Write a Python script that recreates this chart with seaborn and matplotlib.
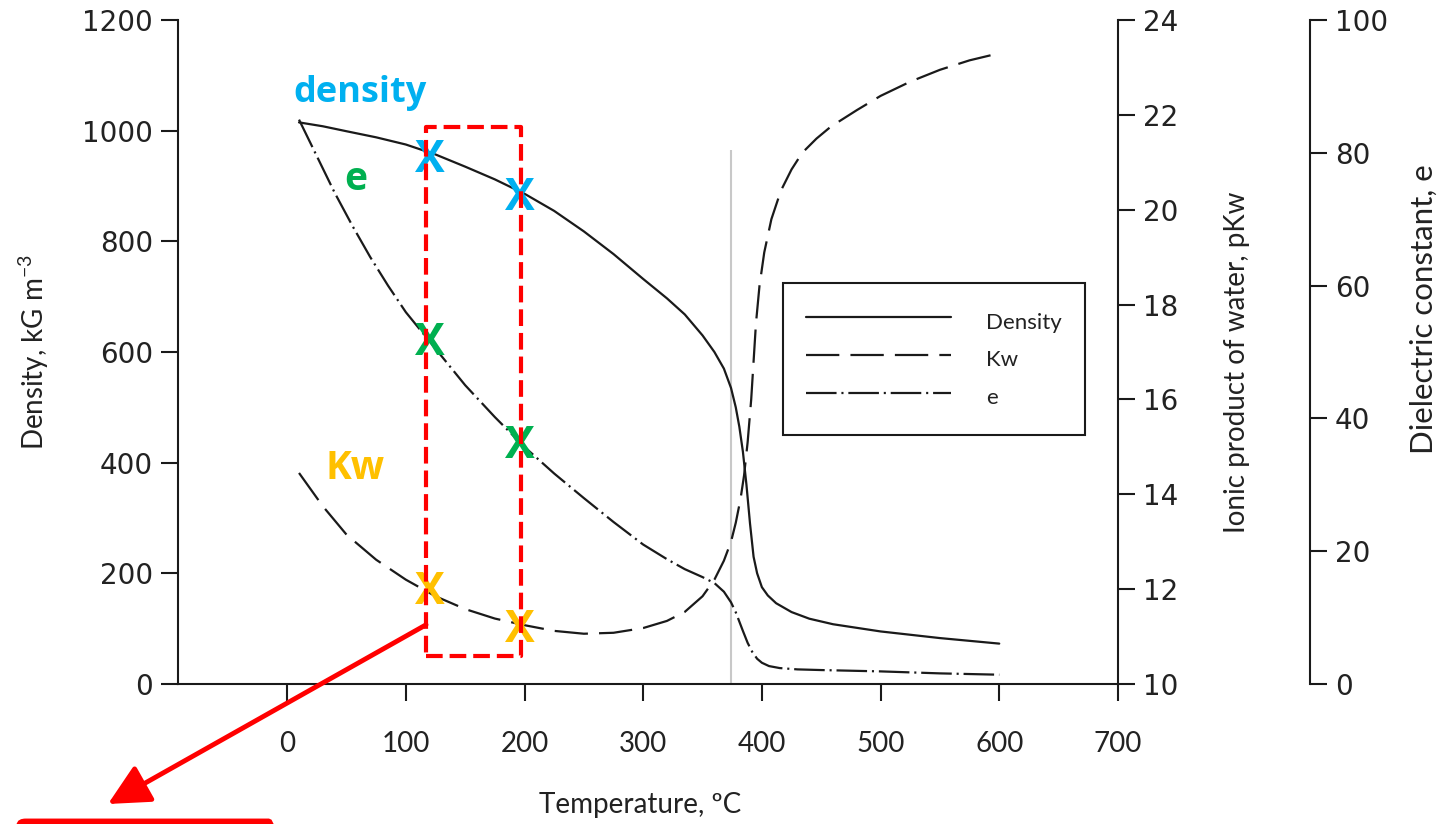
import matplotlib
matplotlib.use("Agg")
import matplotlib.pyplot as plt
import seaborn as sns
import pandas as pd
from matplotlib.patches import Rectangle, FancyBboxPatch

# ---------------- data ----------------
temp_density = [10, 30, 50, 75, 100, 125, 150, 175, 200, 225, 250, 275, 300,
                320, 335, 350, 360, 368, 374, 378, 381, 384, 387, 390, 393,
                396, 400, 405, 412, 425, 440, 460, 500, 550, 600]
density = [1015, 1008, 999, 988, 975, 957, 935, 912, 886, 855, 818, 777, 732,
           697, 668, 630, 600, 570, 535, 500, 465, 420, 360, 290, 230,
           200, 175, 160, 146, 130, 118, 108, 95, 83, 73]

temp_kw = [10, 30, 50, 75, 100, 125, 150, 175, 200, 225, 250, 275, 300, 320,
           335, 350, 360, 368, 374, 378, 382, 385, 388, 391, 393, 395, 398,
           402, 408, 416, 425, 434, 446, 458, 480, 500, 525, 550, 575, 600]
pkw = [14.45, 13.75, 13.15, 12.62, 12.2, 11.85, 11.58, 11.38, 11.24, 11.12,
       11.06, 11.08, 11.18, 11.33, 11.52, 11.85, 12.2, 12.6, 13.0, 13.4, 13.9,
       14.4, 15.1, 16.0, 16.8, 17.6, 18.4, 19.1, 19.8, 20.4, 20.85, 21.2, 21.5,
       21.75, 22.1, 22.4, 22.7, 22.95, 23.15, 23.3]

temp_e = [10, 25, 40, 55, 70, 85, 100, 125, 150, 175, 200, 225, 250, 275, 300,
          320, 335, 350, 360, 368, 374, 378, 381, 384, 388, 392, 396, 400, 406,
          415, 430, 450, 500, 550, 600]
dielectric = [85, 79.5, 74, 69, 64.3, 60, 56, 50.5, 45, 40.2, 35.7, 31.7, 28,
              24.4, 21, 18.8, 17.3, 16.1, 15.2, 13.9, 12.3, 10.8, 9.4, 8.0, 6.2,
              4.8, 3.8, 3.2, 2.7, 2.4, 2.2, 2.1, 1.9, 1.6, 1.4]

critical_T = 374
critical_line_top = 965          # in density units

x_ticks = [0, 100, 200, 300, 400, 500, 600, 700]
y1_ticks = [0, 200, 400, 600, 800, 1000, 1200]
y2_ticks = [10, 12, 14, 16, 18, 20, 22, 24]
y3_ticks = [0, 20, 40, 60, 80, 100]

# highlighted operating points (X marks)
mark_T = [120, 196]
mark_density = [956, 887]
mark_e = [52.1, 36.6]
mark_pkw = [12.05, 11.24]

# red dashed highlight box (T range, density range)
box_T = [117, 197]
box_density = [51, 1007]
arrow_start_density = 107

df_d = pd.DataFrame({"T": temp_density, "v": density})
df_k = pd.DataFrame({"T": temp_kw, "v": pkw})
df_e = pd.DataFrame({"T": temp_e, "v": dielectric})

# ---------------- style ----------------
sns.set_theme(style="ticks")
plt.rcParams["font.family"] = ["Lato", "DejaVu Sans"]
plt.rcParams["lines.scale_dashes"] = False
plt.rcParams["mathtext.fontset"] = "custom"
plt.rcParams["mathtext.rm"] = "Lato"
plt.rcParams["mathtext.it"] = "Lato:italic"
plt.rcParams["mathtext.bf"] = "Lato:bold"

LINE = "#1a1a1a"
TXT = "#222222"
BLUE, GREEN, GOLD, RED = "#00B0F0", "#00B050", "#FFC000", "#FF0000"

fig = plt.figure(figsize=(14.41, 8.24), dpi=100)
ax = fig.add_subplot(111)
fig.subplots_adjust(left=0.1235, right=0.7758, top=0.9757, bottom=0.1699)
ax2 = ax.twinx()
ax3 = ax.twinx()
ax3.spines["right"].set_position(("axes", 1.204))

sns.lineplot(data=df_d, x="T", y="v", ax=ax, color=LINE, lw=1.6,
             label="Density", legend=False)
sns.lineplot(data=df_k, x="T", y="v", ax=ax2, color=LINE, lw=1.6,
             linestyle=(0, (24, 8)), label="Kw", legend=False)
sns.lineplot(data=df_e, x="T", y="v", ax=ax3, color=LINE, lw=1.6,
             linestyle=(0, (22, 3.5, 1.5, 3.5)), label="e", legend=False)

ax.vlines(critical_T, 0, critical_line_top, color="#c8c8c8", lw=1.5, zorder=1)

ax.set_xlim(-92, 700)
ax.set_ylim(0, 1200)
ax2.set_ylim(10, 24)
ax3.set_ylim(0, 100)
ax.set_xticks(x_ticks)
ax.set_yticks(y1_ticks)
ax2.set_yticks(y2_ticks)
ax3.set_yticks(y3_ticks)

for a in (ax, ax2, ax3):
    for s in a.spines.values():
        s.set_color(LINE)
        s.set_linewidth(1.5)
    a.tick_params(direction="out", length=12, width=1.5, color=LINE,
                  labelsize=20, labelcolor=TXT, pad=6)
    a.set_xlabel("")
    a.set_ylabel("")

ax.spines["top"].set_visible(False)
ax.spines["right"].set_visible(False)
for a in (ax2, ax3):
    a.spines["top"].set_visible(False)
    a.spines["left"].set_visible(False)
    a.spines["bottom"].set_visible(False)

for lbl in ax.get_yticklabels() + ax2.get_yticklabels() + ax3.get_yticklabels():
    lbl.set_fontfamily("DejaVu Sans")
ax.tick_params(axis="x", labelsize=20, pad=22)
for lbl in ax.get_xticklabels():
    lbl.set_fontfamily("Lato")

ax.set_xlabel("Temperature, ºC", fontsize=20, color=TXT)
ax.xaxis.set_label_coords(0.492, -0.163)
ax.set_ylabel("Density, kG m$^{-3}$", fontsize=20, color=TXT)
ax.yaxis.set_label_coords(-0.135, 0.5)
ax2.set_ylabel("Ionic product of water, pKw", fontsize=20, color=TXT)
ax2.yaxis.set_label_coords(1.113, 0.485)
ax3.set_ylabel("Dielectric constant, e", fontsize=22.5, color=TXT)
ax3.yaxis.set_label_coords(1.31, 0.565)

# legend
handles, labels = [], []
for a in (ax, ax2, ax3):
    h, l = a.get_legend_handles_labels()
    handles += h
    labels += l
leg = ax3.legend(handles, labels, loc="upper left",
                 bbox_to_anchor=(0.6436, 0.6039), bbox_transform=ax.transAxes,
                 borderaxespad=0, frameon=True, fancybox=False,
                 edgecolor=LINE, framealpha=1, fontsize=16,
                 handlelength=6.5, handletextpad=1.6, borderpad=1.05,
                 handleheight=1.7, labelspacing=0.34)
leg.get_frame().set_linewidth(1.5)
for t in leg.get_texts():
    t.set_color(TXT)

# ---------------- annotations ----------------
ax3.text(61, 1068, "density", transform=ax.transData, color=BLUE,
         fontsize=26, fontweight="bold", family="Open Sans",
         ha="center", va="center")
ax3.text(58, 911, "e", transform=ax.transData, color=GREEN,
         fontsize=28, fontweight="bold", family="Open Sans",
         ha="center", va="center")
ax3.text(57, 390, "Kw", transform=ax.transData, color=GOLD,
         fontsize=28, fontweight="bold", family="Open Sans",
         ha="center", va="center")

for t, v in zip(mark_T, mark_density):
    ax3.text(t, v, "X", transform=ax.transData, color=BLUE, fontsize=32,
             fontweight="bold", family="Open Sans", ha="center",
             va="center_baseline", zorder=6)
for t, v in zip(mark_T, mark_e):
    ax3.text(t, v, "X", transform=ax3.transData, color=GREEN, fontsize=32,
             fontweight="bold", family="Open Sans", ha="center",
             va="center_baseline", zorder=6)
for t, v in zip(mark_T, mark_pkw):
    ax3.text(t, v, "X", transform=ax2.transData, color=GOLD, fontsize=32,
             fontweight="bold", family="Open Sans", ha="center",
             va="center_baseline", zorder=6)

rect = Rectangle((box_T[0], box_density[0]), box_T[1] - box_T[0],
                 box_density[1] - box_density[0], transform=ax.transData,
                 fill=False, edgecolor=RED, lw=3, linestyle=(0, (12, 5)),
                 joinstyle="round", zorder=7)
ax3.add_patch(rect)

ax3.annotate("", xy=(108, 20), xycoords="figure pixels",
             xytext=(box_T[0], arrow_start_density), textcoords=ax.transData,
             arrowprops=dict(arrowstyle="-|>,head_length=0.9,head_width=0.45",
                             color=RED, lw=3.5, mutation_scale=28,
                             shrinkA=0, shrinkB=0),
             annotation_clip=False, zorder=8)

bottom_box = FancyBboxPatch((20 / 1441, -0.1), 254 / 1441, 0.1 + 0.0024,
                            boxstyle="round,pad=0,rounding_size=0.004",
                            transform=fig.transFigure, lw=5, edgecolor=RED,
                            facecolor="none", clip_on=False)
fig.add_artist(bottom_box)

fig.savefig("out.png", dpi=100)
